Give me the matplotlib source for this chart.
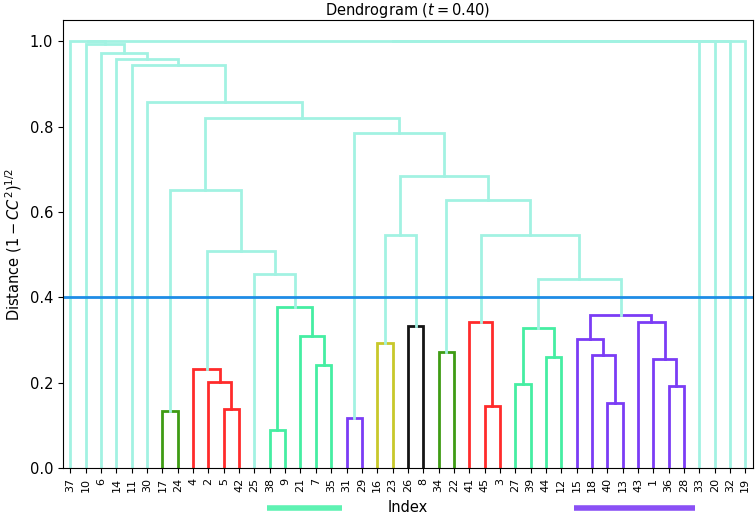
import matplotlib
matplotlib.use("Agg")
import matplotlib.pyplot as plt
import matplotlib.transforms as mtransforms

# leaf labels, left to right
leaf_order = [37, 10, 6, 14, 11, 30, 17, 24, 4, 2, 5, 42, 25, 38, 9, 21, 7, 35,
              31, 29, 16, 23, 26, 8, 34, 22, 41, 45, 3, 27, 39, 44, 12, 15, 18,
              40, 13, 43, 1, 36, 28, 33, 20, 32, 19]

# merges: name, left child, right child, distance (ints are leaves)
merge_name = ["g1", "n5_42", "n2", "red1", "n38_9", "n7_35", "n21", "grn1",
              "n25", "J", "H", "n31_29", "n16_23", "n26_8", "R", "n34_22",
              "n45_3", "red2", "n27_39", "n44_12", "grn2", "n40_13", "n18",
              "n15", "n36_28", "n1", "n43", "pur", "U", "T", "S", "Q", "I",
              "G", "F", "E", "D", "C", "B", "A1", "A2", "A3", "A4", "A5"]
merge_left = [17, 5, 2, 4, 38, 7, 21, "n38_9",
              25, "red1", "g1", 31, 16, 26, "n16_23", 34,
              45, 41, 27, 44, "n27_39", 40, 18,
              15, 36, 1, 43, "n15", "grn2", "red2", "n34_22", "R", "n31_29",
              "H", 30, 11, 14, 6, 10, 37, "A1", "A2", "A3", "A4"]
merge_right = [24, 42, "n5_42", "n2", 9, 35, "n7_35", "n21",
               "grn1", "n25", "J", 29, 23, 8, "n26_8", 22,
               3, "n45_3", 39, 12, "n44_12", 13, "n40_13",
               "n18", 28, "n36_28", "n1", "n43", "pur", "U", "T", "S", "Q",
               "I", "G", "F", "E", "D", "C", "B", 33, 20, 32, 19]
merge_dist = [0.134, 0.138, 0.201, 0.231, 0.088, 0.242, 0.309, 0.377,
              0.456, 0.509, 0.651, 0.117, 0.294, 0.334, 0.546, 0.272,
              0.146, 0.342, 0.198, 0.26, 0.328, 0.153, 0.265,
              0.302, 0.193, 0.256, 0.342, 0.359, 0.442, 0.547, 0.629, 0.684,
              0.786, 0.821, 0.858, 0.944, 0.958, 0.974, 0.993,
              1.0, 1.0, 1.0, 1.0, 1.0]

threshold = 0.40

# cluster colours (below the threshold)
DKGREEN, RED, MINT, PURPLE, YELLOW, BLACK = (
    "#3f9c14", "#ff2b2b", "#45eea2", "#7b3cf5", "#c8c82a", "#151515")
cluster_color = {"g1": DKGREEN, "red1": RED, "grn1": MINT, "n31_29": PURPLE,
                 "n16_23": YELLOW, "n26_8": BLACK, "n34_22": DKGREEN,
                 "red2": RED, "grn2": MINT, "pur": PURPLE}
ABOVE = "#a2f2e2"

# marked clusters under the axis: (first leaf, last leaf, colour)
bar_clusters = [(38, 35, "#5ef2b2"), (15, 28, "#8a50f5")]

# positions like scipy: leaf i at 5 + 10 i
xpos = {lab: 5 + 10 * i for i, lab in enumerate(leaf_order)}
ypos = {lab: 0.0 for lab in leaf_order}
children = {}
for nm, l, r, d in zip(merge_name, merge_left, merge_right, merge_dist):
    xpos[nm] = (xpos[l] + xpos[r]) / 2
    ypos[nm] = d
    children[nm] = (l, r)

# colours: propagate cluster colour to all sub-merges
link_color = {nm: ABOVE for nm in merge_name}


def paint(nm, col):
    link_color[nm] = col
    for c in children[nm]:
        if c in children:
            paint(c, col)


for nm, col in cluster_color.items():
    paint(nm, col)

fig = plt.figure(figsize=(7.56, 5.16), dpi=100)
ax = fig.add_axes([0.083, 0.093, 0.913, 0.868])

for nm, l, r, d in zip(merge_name, merge_left, merge_right, merge_dist):
    ax.plot([xpos[l], xpos[l], xpos[r], xpos[r]],
            [ypos[l], d, d, ypos[r]],
            color=link_color[nm], lw=2, solid_joinstyle="miter")

ax.axhline(threshold, color="#1e8ce6", lw=2)

ax.set_xlim(0, 10 * len(leaf_order))
ax.set_ylim(0, 1.05)
ax.set_xticks([xpos[lab] for lab in leaf_order])
ax.set_xticklabels([str(lab) for lab in leaf_order], rotation=90, fontsize=8)
ax.set_yticks([0.0, 0.2, 0.4, 0.6, 0.8, 1.0])
ax.tick_params(axis="y", labelsize=10.5)
ax.set_xlabel("Index", fontsize=10.5, labelpad=6)
ax.set_ylabel(r"Distance $(1-CC^2)^{1/2}$", fontsize=10.5)
ax.set_title(r"Dendrogram ($t=0.40$)", fontsize=10.5, pad=1)

trans = mtransforms.blended_transform_factory(ax.transData, ax.transAxes)
for first, last, col in bar_clusters:
    ax.plot([xpos[first] - 2, xpos[last] + 7], [-0.09, -0.09], color=col,
            lw=4, transform=trans, clip_on=False, solid_capstyle="butt")

fig.savefig("out.png", dpi=100)
